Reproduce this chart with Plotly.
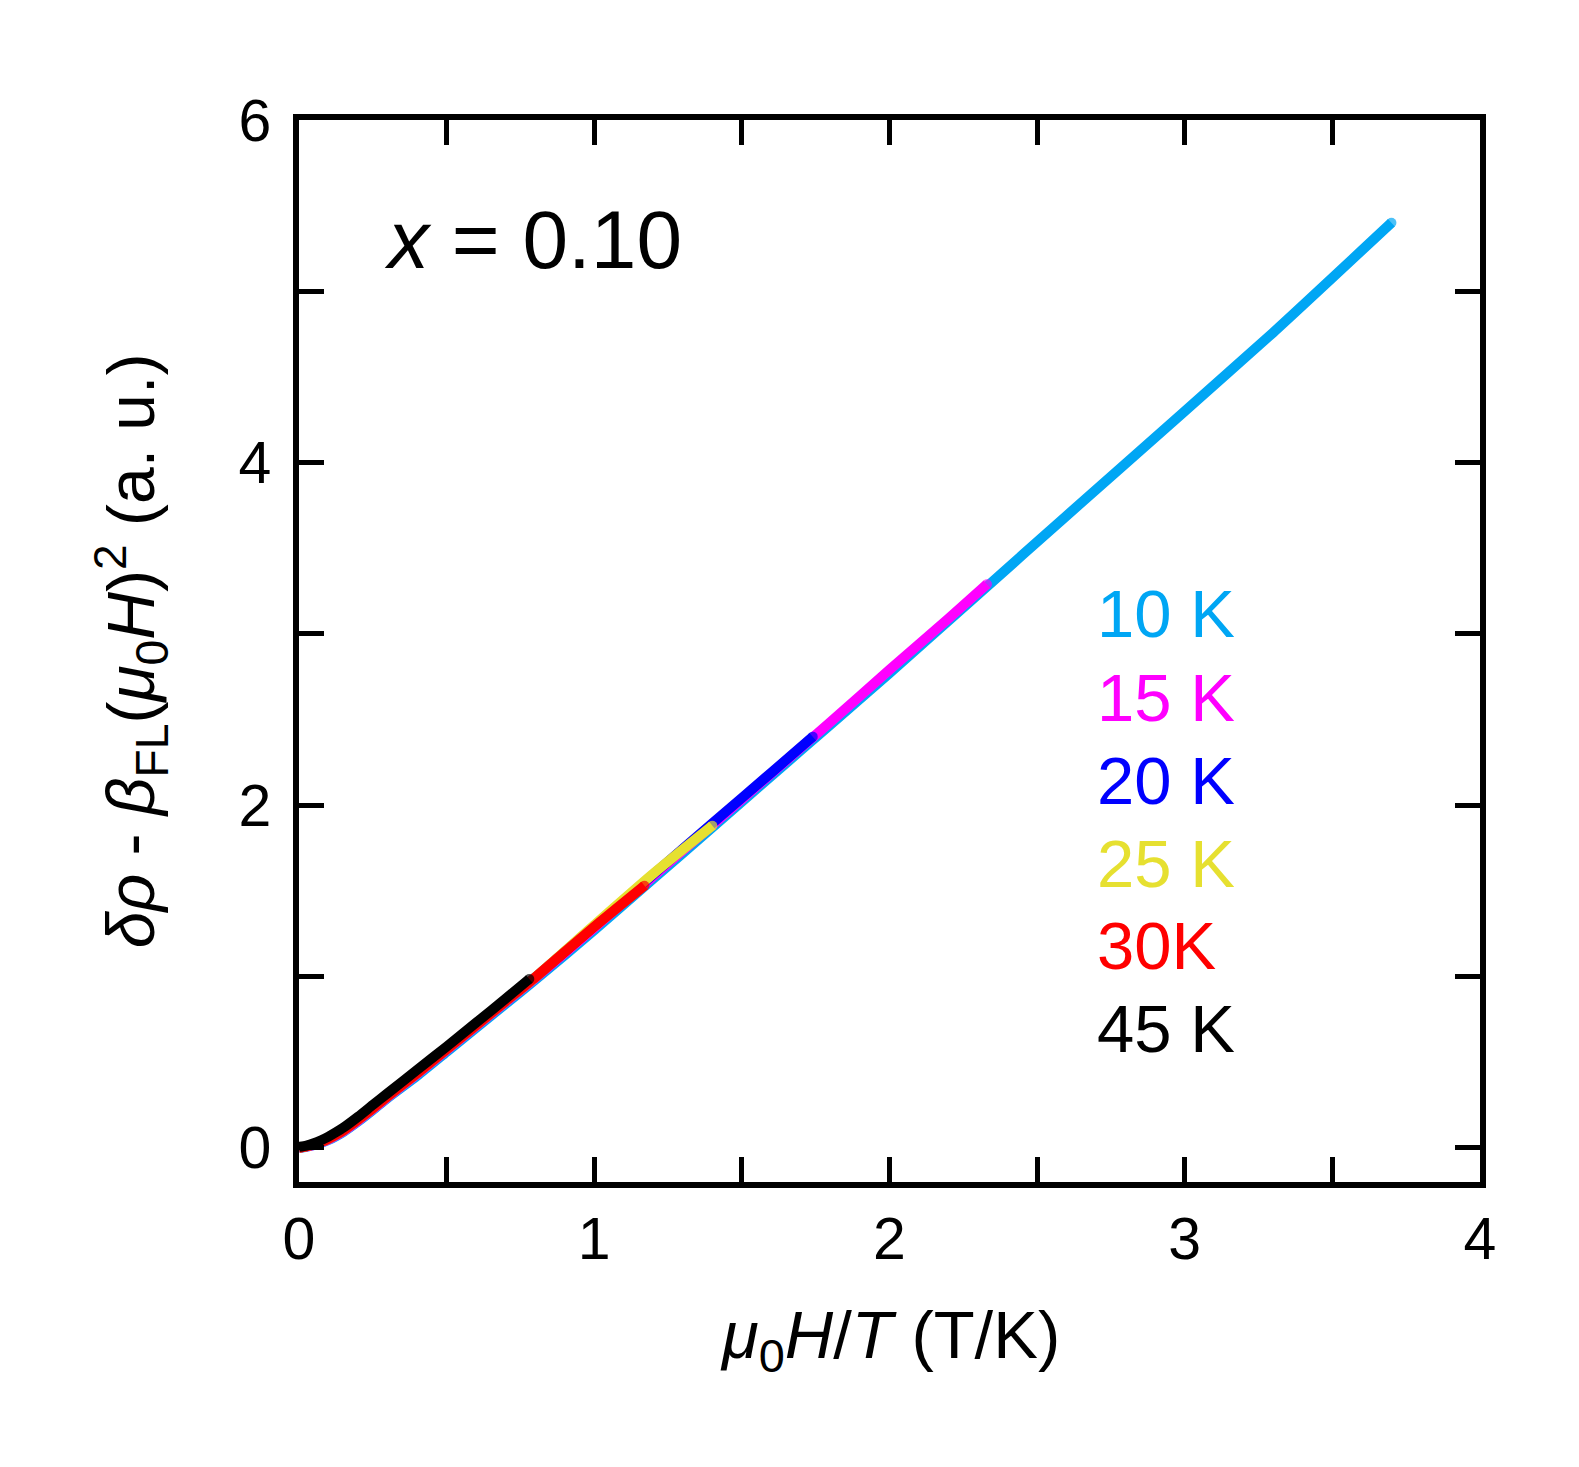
import plotly.graph_objects as go

# ---- data ----
x10 = [0, 0.025, 0.05, 0.075, 0.1, 0.125, 0.15, 0.2, 0.25, 0.3, 0.4, 0.5, 0.6, 0.7, 0.8, 1.0, 1.2, 1.4, 1.6, 1.8, 2.0, 2.3, 2.6, 3.0, 3.3, 3.7]
y10 = [0, 0.006, 0.015, 0.028, 0.045, 0.067, 0.092, 0.153, 0.22, 0.29, 0.42, 0.56, 0.70, 0.84, 0.98, 1.27, 1.57, 1.87, 2.17, 2.47, 2.77, 3.23, 3.69, 4.30, 4.76, 5.40]

x15 = [0, 0.025, 0.05, 0.075, 0.1, 0.125, 0.15, 0.2, 0.25, 0.3, 0.4, 0.5, 0.6, 0.7, 0.8, 1.0, 1.2, 1.4, 1.6, 1.8, 2.0, 2.2, 2.33]
y15 = [0, 0.007, 0.017, 0.031, 0.049, 0.071, 0.096, 0.158, 0.225, 0.295, 0.43, 0.57, 0.71, 0.85, 0.99, 1.285, 1.585, 1.885, 2.185, 2.485, 2.79, 3.09, 3.29]

x20 = [0, 0.025, 0.05, 0.075, 0.1, 0.125, 0.15, 0.2, 0.25, 0.3, 0.4, 0.5, 0.6, 0.7, 0.8, 1.0, 1.2, 1.4, 1.6, 1.74]
y20 = [0, 0.008, 0.019, 0.034, 0.053, 0.075, 0.10, 0.163, 0.23, 0.30, 0.435, 0.575, 0.715, 0.855, 0.995, 1.295, 1.595, 1.895, 2.19, 2.40]

x25 = [0, 0.025, 0.05, 0.075, 0.1, 0.125, 0.15, 0.2, 0.25, 0.3, 0.4, 0.5, 0.6, 0.7, 0.8, 1.0, 1.2, 1.40]
y25 = [0, 0.008, 0.019, 0.034, 0.053, 0.075, 0.10, 0.163, 0.23, 0.30, 0.435, 0.575, 0.715, 0.855, 0.995, 1.30, 1.60, 1.88]

x30 = [0, 0.025, 0.05, 0.075, 0.1, 0.125, 0.15, 0.2, 0.25, 0.3, 0.4, 0.5, 0.6, 0.7, 0.8, 1.0, 1.17]
y30 = [0, 0.008, 0.019, 0.034, 0.053, 0.075, 0.10, 0.163, 0.23, 0.30, 0.435, 0.575, 0.715, 0.855, 0.995, 1.29, 1.53]

x45 = [0, 0.025, 0.05, 0.075, 0.1, 0.125, 0.15, 0.2, 0.25, 0.3, 0.4, 0.5, 0.6, 0.7, 0.78]
y45 = [0.005, 0.013, 0.026, 0.044, 0.065, 0.09, 0.117, 0.181, 0.25, 0.318, 0.455, 0.59, 0.73, 0.87, 0.985]

series = [
    ("10 K", x10, y10, "#00A6F4"),
    ("15 K", x15, y15, "#FF00FF"),
    ("20 K", x20, y20, "#0000FF"),
    ("25 K", x25, y25, "#E6E030"),
    ("30K", x30, y30, "#FF0000"),
    ("45 K", x45, y45, "#000000"),
]
label_y = [3.117, 2.630, 2.142, 1.658, 1.179, 0.695]
label_x = 2.696

x_ticks = [0, 0.5, 1, 1.5, 2, 2.5, 3, 3.5, 4]
x_ticktext = ["0", "", "1", "", "2", "", "3", "", "4"]
y_ticks = [0, 1, 2, 3, 4, 5, 6]
y_ticktext = ["0", "", "2", "", "4", "", "6"]

FONT = "Liberation Sans, Arial, sans-serif"
LW = 10

fig = go.Figure()
for name, xs, ys, col in series:
    n = len(xs)
    fig.add_trace(go.Scatter(
        x=xs, y=ys, mode="lines+markers", name=name,
        line=dict(color=col, width=LW, shape="spline", smoothing=0.6),
        marker=dict(color=col, size=[0] * (n - 1) + [LW], line=dict(width=0)),
        showlegend=False,
    ))

for (name, xs, ys, col), ly in zip(series, label_y):
    fig.add_annotation(x=label_x, y=ly, xref="x", yref="y", text=name, showarrow=False,
                       xanchor="left", yanchor="middle",
                       font=dict(family=FONT, size=67, color=col))

fig.add_annotation(x=0.28, y=5.30, xref="x", yref="y",
                   text="<i>x</i> = 0.10", showarrow=False,
                   xanchor="left", yanchor="middle",
                   font=dict(family=FONT, size=82, color="black"))

# axis titles
fig.add_annotation(x=0.5, y=-0.148, xref="paper", yref="paper",
                   text="<i>μ</i><sub>0</sub><i>H</i>/<i>T</i> (T/K)", showarrow=False,
                   xanchor="center", yanchor="middle",
                   font=dict(family=FONT, size=67, color="black"))
fig.add_annotation(x=-0.142, y=0.5, xref="paper", yref="paper",
                   text="<i>δρ</i> - <i>β</i><sub>FL</sub>(<i>μ</i><sub>0</sub><i>H</i>)<sup>2</sup> (a. u.)",
                   showarrow=False, textangle=-90,
                   xanchor="center", yanchor="middle",
                   font=dict(family=FONT, size=66, color="black"))

axis_common = dict(
    showline=True, linewidth=5.5, linecolor="black", mirror="ticks",
    ticks="inside", ticklen=25, tickwidth=5, tickcolor="black",
    showgrid=False, zeroline=False,
    tickfont=dict(family=FONT, size=59, color="black"),
)
fig.update_xaxes(range=[0, 4], tickvals=x_ticks, ticktext=x_ticktext,
                 ticklabelstandoff=0, **axis_common)
fig.update_yaxes(range=[-0.2, 6], tickvals=y_ticks, ticktext=y_ticktext,
                 ticklabelstandoff=10, **axis_common)

fig.update_layout(
    width=1579, height=1467,
    margin=dict(l=299, r=99, t=120, b=285),
    paper_bgcolor="white", plot_bgcolor="white",
    showlegend=False,
)

fig.write_html("out.html")
